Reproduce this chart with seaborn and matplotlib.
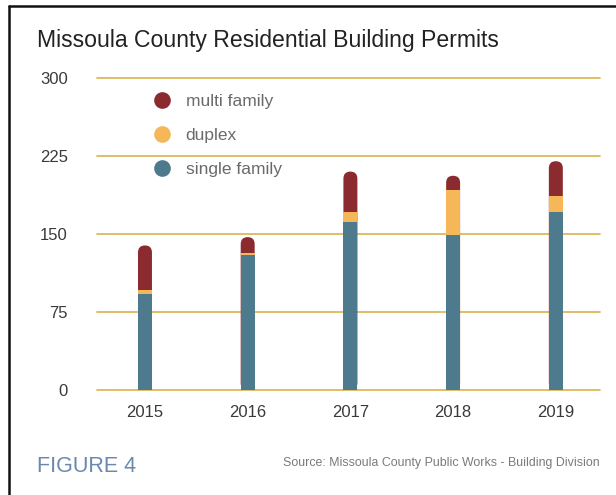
import matplotlib
matplotlib.use("Agg")
import matplotlib.pyplot as plt
from matplotlib.patches import FancyBboxPatch
from matplotlib.lines import Line2D
import seaborn as sns
import pandas as pd

# Permit counts by year and housing type
years = ["2015", "2016", "2017", "2018", "2019"]
single_family = [92, 130, 162, 149, 171]
duplex = [4, 2, 9, 43, 16]
multi_family = [43, 15, 39, 14, 33]
y_ticks = [0, 75, 150, 225, 300]

col_single = "#4e7a8e"
col_duplex = "#f5b757"
col_multi = "#8c2b2f"
col_grid = "#dcb95c"

df = pd.DataFrame({"year": years, "single": single_family,
                   "duplex": duplex, "multi": multi_family})
df["single_duplex"] = df["single"] + df["duplex"]
df["total"] = df["single_duplex"] + df["multi"]

sns.set_theme(style="white")
plt.rcParams["font.family"] = ["Liberation Sans", "DejaVu Sans"]

W, H = 616, 495
fig = plt.figure(figsize=(W / 100, H / 100), dpi=100)
fig.patch.set_facecolor("white")

# axes placed in pixel terms: x from 97 to 600, zero line at y=390
ax_left, ax_right = 97, 600
ax_bottom = 390
ymax = 302
px_per_unit = 1.04
ax_h = ymax * px_per_unit
ax = fig.add_axes([ax_left / W, (H - ax_bottom) / H,
                   (ax_right - ax_left) / W, ax_h / H])

bar_w = 0.136
bar_kw = dict(width=bar_w, saturation=1, linewidth=0, edgecolor="none", ax=ax)
sns.barplot(data=df, x="year", y="total", color=col_multi, zorder=3, **bar_kw)
n_total = len(ax.patches)
sns.barplot(data=df, x="year", y="single_duplex", color=col_duplex, zorder=4, **bar_kw)
sns.barplot(data=df, x="year", y="single", color=col_single, zorder=5, **bar_kw)

ax.set_xlim(-0.467, 4.43)
ax.set_ylim(0, ymax)

# give the top (multi family) segment a rounded cap
x_unit_px = (ax_right - ax_left) / (4.43 + 0.467)
aspect = x_unit_px / px_per_unit
for p in list(ax.patches[:n_total]):
    x0, y0 = p.get_x(), p.get_y()
    w, h = p.get_width(), p.get_height()
    r = w / 2
    fb = FancyBboxPatch((x0, y0), w, h,
                        boxstyle=f"round,pad=0,rounding_size={r}",
                        mutation_aspect=aspect,
                        facecolor=col_multi, edgecolor="none", zorder=3)
    p.set_visible(False)
    ax.add_patch(fb)

# gridlines
for t in y_ticks:
    ax.axhline(t, color=col_grid, lw=1.3, zorder=1, clip_on=False)

ax.set_yticks(y_ticks)
ax.set_yticklabels([str(t) for t in y_ticks])
ax.tick_params(axis="y", length=0, pad=21, labelsize=12, labelcolor="#3a3a3a")
ax.tick_params(axis="x", length=0, pad=11, labelsize=12, labelcolor="#3a3a3a")
ax.set_xlabel("")
ax.set_ylabel("")
for s in ax.spines.values():
    s.set_visible(False)
ax.set_facecolor("none")

# legend
handles = [Line2D([], [], marker="o", ls="none", markersize=12,
                  markerfacecolor=c, markeredgecolor="none")
           for c in (col_multi, col_duplex, col_single)]
leg = fig.legend(handles, ["multi family", "duplex", "single family"],
                 loc="upper left", bbox_to_anchor=(138 / W, 1 - 78 / H),
                 frameon=False, fontsize=12.5, labelspacing=1.1,
                 handletextpad=0.85, handlelength=1.0)
for t in leg.get_texts():
    t.set_color("#6a6a6a")

# title and footer
fig.text(37 / W, 1 - 40 / H, "Missoula County Residential Building Permits",
         fontsize=16.6, color="#222222", va="center", ha="left")
fig.text(37 / W, 1 - 466 / H, "FIGURE 4", fontsize=15.5, color="#6a88ae",
         va="center", ha="left", fontweight="medium")
fig.text(600 / W, 1 - 463 / H,
         "Source: Missoula County Public Works - Building Division",
         fontsize=8.9, color="#7a7a7a", va="center", ha="right")

# page frame on top and left
fig.add_artist(Line2D([8.5 / W, 8.5 / W], [0, 1 - 5.5 / H],
                      transform=fig.transFigure, color="#111111", lw=1.8))
fig.add_artist(Line2D([8.5 / W, 1], [1 - 5.5 / H, 1 - 5.5 / H],
                      transform=fig.transFigure, color="#111111", lw=1.8))

fig.savefig("out.png", dpi=100, facecolor="white")
